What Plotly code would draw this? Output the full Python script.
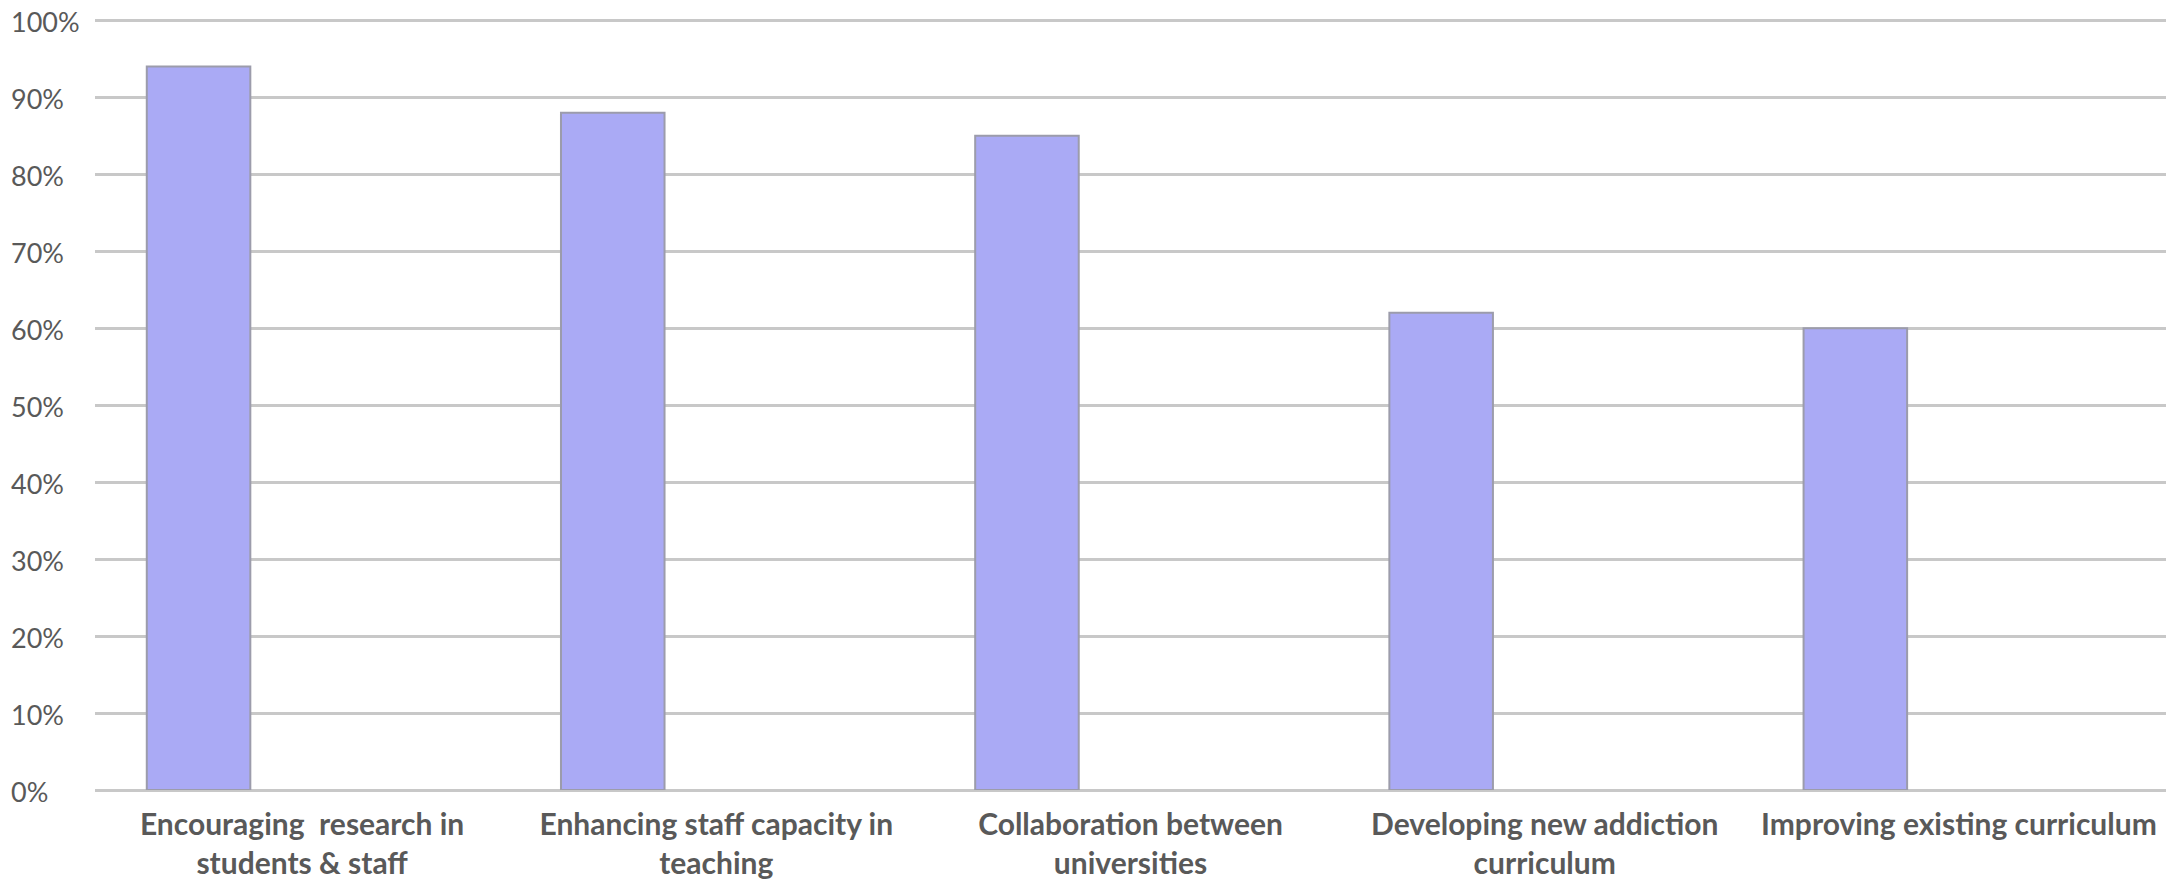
import plotly.graph_objects as go

categories = [
    "Encouraging  research in<br>students & staff",
    "Enhancing staff capacity in<br>teaching",
    "Collaboration between<br>universities",
    "Developing new addiction<br>curriculum",
    "Improving existing curriculum",
]
values = [0.94, 0.88, 0.85, 0.62, 0.60]
y_ticks = [0, 0.1, 0.2, 0.3, 0.4, 0.5, 0.6, 0.7, 0.8, 0.9, 1.0]
y_tick_labels = ["0%", "10%", "20%", "30%", "40%", "50%", "60%", "70%", "80%", "90%", "100%"]

fig = go.Figure()
fig.add_trace(go.Bar(
    x=categories,
    y=values,
    width=0.25,
    offset=-0.375,
    marker=dict(color="#aaaaf5", line=dict(color="#9c9cab", width=2)),
))

# left-aligned y tick labels (as in the original)
for v, t in zip(y_ticks, y_tick_labels):
    fig.add_annotation(
        xref="paper", yref="y", x=0, y=v, text=t, showarrow=False,
        xanchor="left", yanchor="middle", xshift=-86, yshift=-1,
        font=dict(family="Lato", size=27, color="#595959"),
    )

fig.update_layout(
    width=2177,
    height=882,
    margin=dict(l=95, r=11, t=18, b=92),
    paper_bgcolor="white",
    plot_bgcolor="white",
    showlegend=False,
    font=dict(family="Lato", color="#595959"),
)
fig.update_xaxes(
    automargin=False,
    showgrid=False,
    showline=False,
    ticks="",
    tickfont=dict(family="Lato", size=30, color="#595959", weight="bold"),
    tickangle=0,
    ticklabelstandoff=14,
)
fig.update_yaxes(
    automargin=False,
    range=[0, 1.003],
    tickvals=y_ticks,
    showticklabels=False,
    showgrid=True,
    gridcolor="#c8c8c8",
    gridwidth=3,
    zeroline=True,
    zerolinecolor="#c8c8c8",
    zerolinewidth=3,
    showline=False,
    ticks="",
)
fig.write_html("out.html")
